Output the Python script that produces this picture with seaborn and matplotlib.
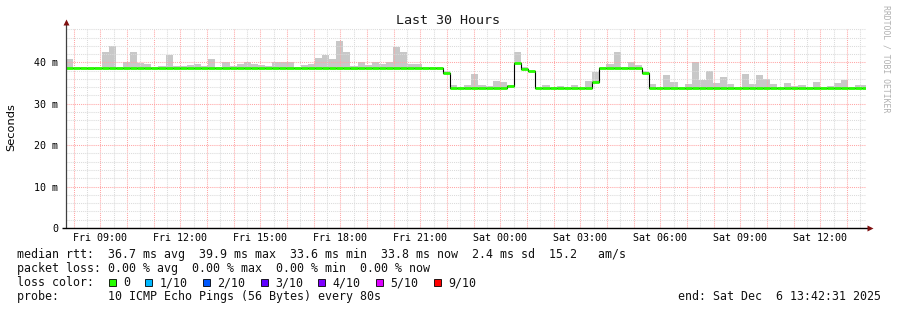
import matplotlib
matplotlib.use("Agg")
import matplotlib.pyplot as plt
from matplotlib.ticker import MultipleLocator, FuncFormatter
from matplotlib.patches import Rectangle
import numpy as np
import pandas as pd
import seaborn as sns

# ---------------- data ----------------
title = "Last 30 Hours"
ylabel = "Seconds"
watermark = "RRDTOOL / TOBI OETIKER"
start_hour = 7 + 42 / 60 + 31 / 3600          # Fri 07:42:31
span_hours = 30
block_hours = 16 / 60                          # 16-minute consolidation steps

# median rtt per block (ms)
median_ms = [
    38.7, 38.7, 38.7, 38.7, 38.7, 38.7, 38.7, 38.7, 38.7, 38.7,
    38.7, 38.7, 38.7, 38.7, 38.7, 38.7, 38.7, 38.7, 38.7, 38.7,
    38.7, 38.7, 38.7, 38.7, 38.7, 38.7, 38.7, 38.7, 38.7, 38.7,
    38.7, 38.7, 38.7, 38.7, 38.7, 38.7, 38.7, 38.7, 38.7, 38.7,
    38.7, 38.7, 38.7, 38.7, 38.7, 38.7, 38.7, 38.7, 38.7, 38.7,
    38.7, 38.7, 38.7, 37.4, 33.8, 33.8, 33.7, 33.8, 33.7, 33.7,
    33.8, 33.8, 34.3, 39.8, 38.4, 37.8, 33.8, 33.7, 33.7, 33.8,
    33.8, 33.7, 33.8, 33.8, 35.3, 38.7, 38.7, 38.7, 38.7, 38.7,
    38.7, 37.4, 33.8, 33.8, 33.8, 33.8, 33.7, 33.8, 33.8, 33.8,
    33.8, 33.8, 33.8, 33.8, 33.8, 33.8, 33.8, 33.8, 33.8, 33.8,
    33.8, 33.8, 33.8, 33.8, 33.8, 33.8, 33.8, 33.8, 33.8, 33.7,
    33.8, 33.8, 33.8,
]
# top of the smoke per block (ms)
smoke_hi = [
    40.7, 39.0, 39.0, 39.0, 38.9, 42.6, 43.9, 38.9, 40.2, 42.6,
    39.9, 39.5, 38.9, 39.2, 41.9, 39.2, 39.2, 39.4, 39.7, 39.1,
    40.7, 39.0, 40.1, 39.1, 39.5, 40.2, 39.5, 39.3, 39.1, 40.0,
    40.0, 40.0, 38.9, 39.3, 39.5, 41.0, 41.9, 40.7, 45.1, 42.6,
    39.1, 40.2, 39.3, 40.2, 39.5, 40.2, 43.6, 42.4, 39.5, 39.5,
    38.9, 38.9, 38.9, 37.9, 34.5, 34.0, 34.5, 37.3, 34.5, 34.3,
    35.4, 35.2, 34.5, 42.6, 38.8, 38.0, 34.0, 34.5, 34.0, 34.3,
    34.0, 34.5, 34.0, 35.4, 37.6, 38.9, 39.5, 42.4, 38.9, 40.0,
    39.3, 37.9, 34.7, 34.0, 36.9, 35.2, 34.0, 34.7, 40.0, 35.7,
    37.8, 35.0, 36.4, 34.7, 34.0, 37.1, 34.7, 36.9, 36.0, 34.7,
    34.0, 35.0, 34.3, 34.5, 34.0, 35.2, 34.0, 34.3, 35.0, 35.7,
    34.0, 34.5, 34.5,
]
# bottom of the smoke per block (ms)
smoke_lo = [
    38.5, 38.5, 38.4, 38.2, 38.5, 38.5, 38.5, 38.5, 38.5, 38.5,
    38.5, 38.5, 38.5, 38.5, 38.5, 38.5, 38.5, 38.5, 38.5, 38.5,
    38.5, 38.5, 38.5, 38.5, 38.5, 38.5, 38.5, 38.5, 38.5, 38.5,
    38.5, 38.5, 38.5, 38.5, 38.5, 38.5, 38.5, 38.5, 38.5, 38.5,
    38.2, 38.5, 38.5, 38.5, 38.5, 38.5, 38.3, 38.3, 38.5, 38.3,
    38.5, 38.5, 38.5, 37.2, 33.6, 33.6, 33.5, 33.6, 33.5, 33.5,
    33.6, 33.6, 34.1, 39.6, 38.2, 37.6, 33.6, 33.5, 33.5, 33.6,
    33.6, 33.5, 33.6, 33.6, 35.1, 38.5, 38.5, 38.5, 38.5, 38.5,
    38.5, 37.2, 33.6, 33.6, 33.6, 33.6, 33.5, 33.4, 33.6, 33.5,
    33.6, 33.6, 33.6, 33.6, 33.6, 33.6, 33.6, 33.6, 33.6, 33.6,
    33.6, 33.6, 33.6, 33.6, 33.6, 33.6, 33.6, 33.6, 33.6, 33.5,
    33.6, 33.6, 33.6,
]

y_ticks_ms = [0, 10, 20, 30, 40]
x_label_hours = [9, 12, 15, 18, 21, 24, 27, 30, 33, 36]
x_labels = ["Fri 09:00", "Fri 12:00", "Fri 15:00", "Fri 18:00", "Fri 21:00",
            "Sat 00:00", "Sat 03:00", "Sat 06:00", "Sat 09:00", "Sat 12:00"]

legend_rows = [
    "median rtt:  36.7 ms avg  39.9 ms max  33.6 ms min  33.8 ms now  2.4 ms sd  15.2   am/s",
    "packet loss: 0.00 % avg  0.00 % max  0.00 % min  0.00 % now",
    "loss color:",
    "probe:       10 ICMP Echo Pings (56 Bytes) every 80s",
]
loss_labels = ["0", "1/10", "2/10", "3/10", "4/10", "5/10", "9/10"]
loss_colors = ["#26ff00", "#00b8ff", "#0059ff", "#5e00ff", "#7e00ff", "#dd00ff", "#ff0000"]
end_text = "end: Sat Dec  6 13:42:31 2025"

# ---------------- style ----------------
sns.set_theme(style="white")
plt.rcParams["font.family"] = ["DejaVu Sans Mono", "DejaVu Sans"]

W, H = 897, 310
fig = plt.figure(figsize=(W / 100, H / 100), dpi=100)
fig.patch.set_facecolor("white")
ax_left, ax_bottom, ax_w, ax_h = 66, 82, 800, 200
ax = fig.add_axes([ax_left / W, ax_bottom / H, ax_w / W, ax_h / H])
ax.set_facecolor("white")

n = len(median_ms)
left_edges = start_hour + block_hours * np.arange(n)
med = np.array(median_ms)
hi = np.array(smoke_hi)
lo = np.array(smoke_lo)

# smoke
ax.bar(left_edges, hi - lo, bottom=lo, width=block_hours, align="edge",
       color="#c8c8c8", linewidth=0, zorder=1)

# median black step line
edges = np.append(left_edges, left_edges[-1] + block_hours)
df = pd.DataFrame({"t": edges, "rtt": np.append(med, med[-1])})
sns.lineplot(data=df, x="t", y="rtt", ax=ax, estimator=None, color="black",
             lw=0.8, drawstyle="steps-post", zorder=3)

# green (loss 0) segments
ax.hlines(med, left_edges, left_edges + block_hours, colors=loss_colors[0],
          lw=2.0, zorder=4)

ymax = 48.3
ax.set_xlim(start_hour, start_hour + span_hours)
ax.set_ylim(0, ymax)
ax.set_xlabel("")
ax.set_ylabel("")

# grid
ax.xaxis.set_major_locator(MultipleLocator(1))
ax.xaxis.set_minor_locator(MultipleLocator(0.5))
ax.yaxis.set_major_locator(MultipleLocator(10))
ax.yaxis.set_minor_locator(MultipleLocator(2))
ax.set_axisbelow("line")
dot = (0, (1, 1))
ax.grid(which="major", color=(1.0, 0.65, 0.65), lw=0.75, ls=dot)
ax.grid(which="minor", color=(0.86, 0.86, 0.86), lw=0.75, ls=dot)

lab_map = dict(zip(x_label_hours, x_labels))
ax.xaxis.set_major_formatter(FuncFormatter(lambda v, p: lab_map.get(int(round(v)), "")))
ax.yaxis.set_major_formatter(FuncFormatter(lambda v, p: "0" if abs(v) < 1e-9 else f"{v:g} m"))
ax.tick_params(axis="x", which="major", direction="out", length=2.2, width=0.7,
               color="black", labelsize=7.2, pad=1.3, labelcolor="black")
ax.tick_params(axis="x", which="minor", direction="out", length=1.5, width=0.7, color="black")
ax.tick_params(axis="y", which="major", direction="out", length=3, width=0.9,
               color="black", labelsize=7.2, pad=2.5, labelcolor="black")
ax.tick_params(axis="y", which="minor", length=0)
for s in ax.spines.values():
    s.set_visible(False)

# axis lines with arrows
px_x = span_hours / ax_w
px_y = ymax / ax_h
ax.plot([start_hour, start_hour], [0, ymax + 6 * px_y], color="#404040", lw=0.9,
        clip_on=False, zorder=5)
ax.plot([start_hour], [ymax + 6 * px_y], marker="^", color="#7f1010", ms=4.2,
        clip_on=False, zorder=6, mec="none")
ax.plot([start_hour - 4 * px_x, start_hour + span_hours + 3 * px_x], [0, 0],
        color="black", lw=1.0, clip_on=False, zorder=5, solid_capstyle="butt")
ax.plot([start_hour + span_hours + 4 * px_x], [0], marker=">", color="#7f1010",
        ms=4.2, clip_on=False, zorder=6, mec="none")

# texts
def fx(x):
    return x / W


def fy(y):
    return 1 - y / H


fig.text(fx(448), fy(20), title, ha="center", va="center", fontsize=9.6,
         family="DejaVu Sans Mono", color="#1a1a1a")
fig.text(fx(11), fy(127), ylabel, ha="center", va="center", rotation=90,
         fontsize=8.2, family="DejaVu Sans", color="black")
fig.text(fx(886), fy(59), watermark, ha="center", va="center", rotation=270,
         fontsize=5.9, family="DejaVu Sans Mono", color="#b0b0b0")

row_y = [254.7, 268.3, 282.7, 296.7]
for txt, yy in zip(legend_rows, row_y):
    fig.text(fx(16.5), fy(yy), txt, ha="left", va="center", fontsize=8.4,
             family="DejaVu Sans Mono", color="#111111")

bx = 108.7
for lab, col in zip(loss_labels, loss_colors):
    fig.add_artist(Rectangle((fx(bx), fy(row_y[2] + 3.5)), 7 / W, 7 / H,
                             transform=fig.transFigure, facecolor=col,
                             edgecolor="black", lw=0.6))
    fig.text(fx(bx + 14.5), fy(row_y[2]), lab, ha="left", va="center",
             fontsize=8.4, family="DejaVu Sans Mono", color="#111111")
    bx += 14.5 + 7.1 * len(lab) + 14.8

fig.text(fx(881), fy(row_y[3]), end_text, ha="right", va="center", fontsize=8.4,
         family="DejaVu Sans Mono", color="#111111")

fig.savefig("out.png", dpi=100, facecolor="white")
